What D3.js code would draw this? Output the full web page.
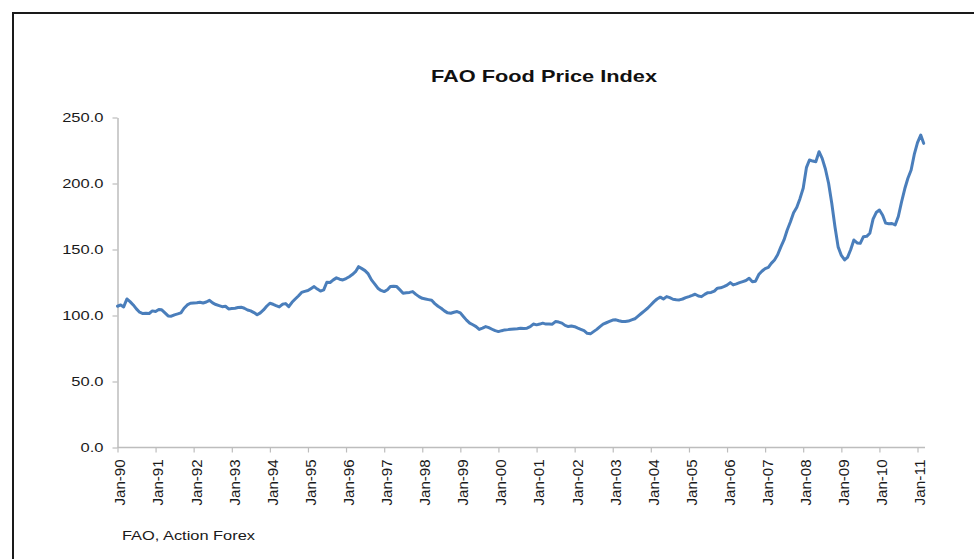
<!DOCTYPE html>
<html><head><meta charset="utf-8">
<script src="https://cdn.jsdelivr.net/npm/d3@7"></script>
<style>body{margin:0;background:#fff}svg{display:block}</style>
</head><body><svg id="c" width="974" height="559"></svg>
<script>
const chartTitle = "FAO Food Price Index";
const sourceText = "FAO, Action Forex";
const startYear = 1990;
// monthly index values, Jan-1990 .. Mar-2011
const values = [
  107, 108, 106.5, 112.5, 110.5, 108, 105, 102.5, 101.5, 101.7, 101.5, 103.5,
  103, 104.5, 104.3, 102, 99.7, 99.5, 100.5, 101.2, 102, 105.5, 108, 109.3,
  109.5, 109.6, 110, 109.5, 110.2, 111.5, 109.5, 108.3, 107.5, 106.7, 107, 105,
  105.3, 105.5, 106, 106.3, 105.5, 104.2, 103.5, 102.2, 100.5, 102, 104.2, 107,
  109.3, 108.5, 107.5, 106.5, 108.5, 109, 106.7, 110, 112.5, 114.8, 117.5, 118.3,
  118.9, 120.5, 121.9, 120, 118.5, 119.4, 125.2, 125, 127, 128.5, 127.5, 126.9,
  128, 129.4, 131, 133.2, 137, 135.5, 134, 131.5, 127, 124, 120.7, 119,
  118.1, 119.5, 121.9, 122.2, 121.9, 119.4, 116.9, 117.3, 117.5, 118.1, 116, 114.3,
  113, 112.5, 112, 111.5, 109, 107, 105.5, 103.5, 102, 101.7, 102.5, 103,
  102, 99, 96.5, 94.2, 93, 91.6, 89.5, 90.5, 91.6, 90.8, 89.6, 88.5,
  87.8, 88.5, 89.1, 89.3, 89.6, 89.8, 90, 90.4, 90.2, 90.4, 91.5, 93.5,
  92.9, 93.5, 94.2, 93.5, 93.6, 93.4, 95.4, 95, 94.2, 92.5, 91.6, 92.1,
  91.5, 90.4, 89.5, 88.5, 86.5, 86.1, 87.8, 89.5, 91.6, 93.5, 94.5, 95.5,
  96.5, 96.7, 96, 95.5, 95.4, 95.8, 96.7, 97.5, 99.5, 101.5, 103.5, 105.5,
  108, 110.5, 112.5, 113.9, 112.5, 114.3, 113.5, 112.3, 112, 111.8, 112.5, 113.5,
  114.3, 115.2, 116.1, 114.8, 114.3, 116, 117.3, 117.5, 118.5, 120.7, 121, 121.9,
  123, 124.9, 123.2, 124, 124.9, 125.7, 126.5, 128.2, 125.5, 126, 131, 133.5,
  135.5, 136.5, 139.5, 142.1, 146, 152, 157.2, 164.8, 171, 177.9, 182, 188.5,
  196.4, 212, 217.8, 217, 216.5, 224.1, 219, 211, 200, 185, 167, 152,
  145.5, 142.1, 144, 150, 157.2, 155, 154.7, 159.7, 160, 162.3, 173, 178,
  179.9, 176, 170, 169.5, 169.7, 168.6, 175, 186, 196, 204, 210.2, 222,
  231, 236.7, 230.4
];
const yTicks = [0, 50, 100, 150, 200, 250];
const xTickLabels = ["Jan-90","Jan-91","Jan-92","Jan-93","Jan-94","Jan-95","Jan-96","Jan-97","Jan-98","Jan-99","Jan-00",
  "Jan-01","Jan-02","Jan-03","Jan-04","Jan-05","Jan-06","Jan-07","Jan-08","Jan-09","Jan-10","Jan-11"];

const svg = d3.select("#c");
const data = values.map((v, i) => ({date: new Date(startYear, i, 1), v}));
const tickDates = xTickLabels.map((l, i) => new Date(startYear + i, 0, 1));

const x = d3.scaleTime()
  .domain([new Date(1990, 0, 1), new Date(2011, 0, 1)])
  .range([117.5, 917.5]);
const y = d3.scaleLinear().domain([0, 250]).range([447.5, 117.5]);

// outer frame
svg.append("rect").attr("x", 13).attr("y", 13).attr("width", 990).attr("height", 580)
  .attr("fill", "none").attr("stroke", "#1a1a1a").attr("stroke-width", 2);

// title
svg.append("text").attr("x", 544).attr("y", 82).attr("text-anchor", "middle")
  .attr("font-family", "Liberation Sans, Arial, sans-serif").attr("font-weight", "bold")
  .attr("font-size", 17).attr("fill", "#111")
  .attr("textLength", 226).attr("lengthAdjust", "spacingAndGlyphs")
  .text(chartTitle);

// y axis
const yAxis = svg.append("g").attr("transform", "translate(117.5,0)")
  .call(d3.axisLeft(y).tickValues(yTicks).tickFormat(d3.format(".1f")).tickSize(5).tickSizeOuter(0).tickPadding(9));
yAxis.select(".domain").attr("stroke", "#bdbdbd").attr("stroke-width", 1.5);
yAxis.selectAll(".tick line").attr("stroke", "#bdbdbd").attr("stroke-width", 1.2);
yAxis.selectAll(".tick text")
  .attr("font-family", "Liberation Sans, Arial, sans-serif").attr("font-size", 13).attr("fill", "#1a1a1a")
  .each(function(){ const w = this.getComputedTextLength(); d3.select(this).attr("textLength", w*1.27).attr("lengthAdjust","spacingAndGlyphs"); });

// x axis
const xAxis = svg.append("g").attr("transform", "translate(0,447.5)")
  .call(d3.axisBottom(x).tickValues(tickDates).tickFormat((d, i) => xTickLabels[i]).tickSize(5).tickSizeOuter(0));
xAxis.select(".domain").attr("d", `M117.5,0H925`).attr("stroke", "#bdbdbd").attr("stroke-width", 1.5);
xAxis.selectAll(".tick line").attr("stroke", "#bdbdbd").attr("stroke-width", 1.2);
xAxis.selectAll(".tick text")
  .attr("font-family", "Liberation Sans, Arial, sans-serif").attr("font-size", 13).attr("fill", "#1a1a1a")
  .attr("text-anchor", "end").attr("dy", null).attr("y", null)
  .attr("transform", "translate(2,12) rotate(-90) scale(1,1.18)")
  .attr("x", 0).attr("dy", "0.35em")
  .attr("textLength", 46).attr("lengthAdjust", "spacingAndGlyphs");

// line
svg.append("path").datum(data)
  .attr("fill", "none").attr("stroke", "#4a7ebb").attr("stroke-width", 3)
  .attr("stroke-linejoin", "round").attr("stroke-linecap", "round")
  .attr("d", d3.line().x(d => x(d.date)).y(d => y(d.v)));

// source
svg.append("text").attr("x", 122).attr("y", 540)
  .attr("font-family", "Liberation Sans, Arial, sans-serif").attr("font-size", 12).attr("fill", "#1a1a1a")
  .attr("textLength", 133).attr("lengthAdjust", "spacingAndGlyphs")
  .text(sourceText);
</script>
</body></html>
